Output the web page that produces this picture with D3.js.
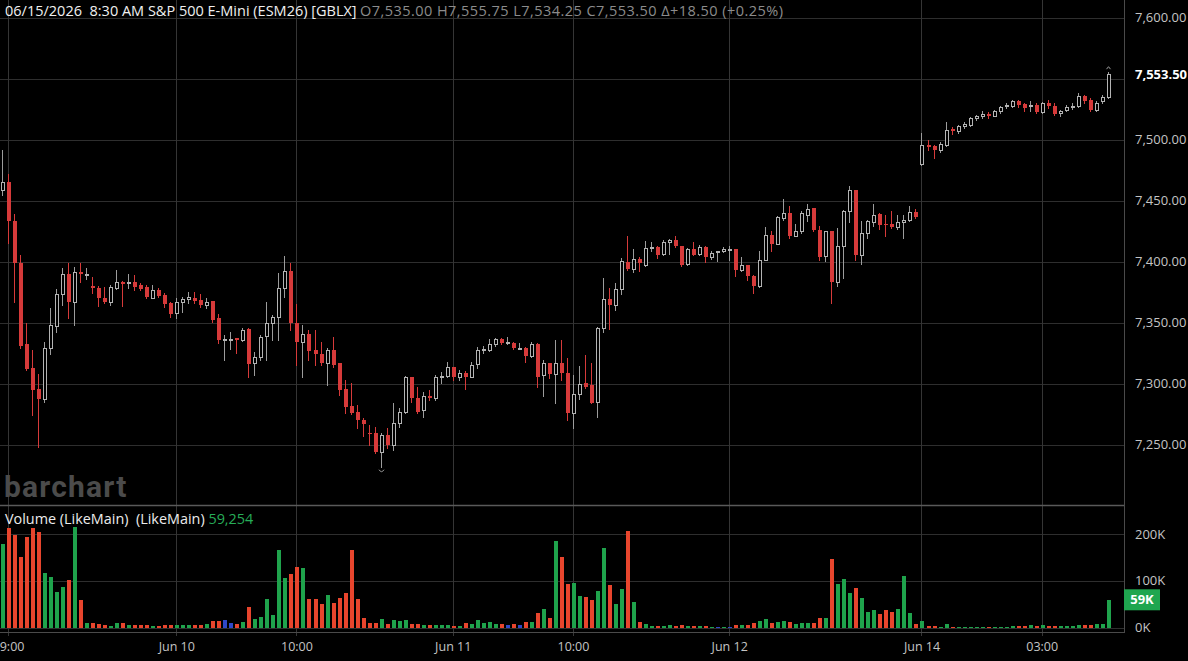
<!DOCTYPE html>
<html>
<head>
<meta charset="utf-8">
<script src="https://d3js.org/d3.v7.min.js"></script>
<style>
  html, body { margin: 0; padding: 0; background: #000; }
  svg { display: block; font-family: "Open Sans", "Noto Sans", sans-serif; }
</style>
</head>
<body>
<div id="chart"></div>
<script>
// 30-minute bars, CT session blocks: [day, first bar, bar count]
var sessions = [
  ["06/09", "08:30", 15], ["06/09", "17:00", 14],
  ["06/10", "00:00", 32], ["06/10", "17:00", 14],
  ["06/11", "00:00", 32], ["06/11", "17:00", 14],
  ["06/12", "00:00", 32],
  ["06/14", "17:00", 14],
  ["06/15", "00:00", 18]
];

var openP = [
  7458.7, 7465.6, 7433.3, 7399.2, 7332.2, 7312.6, 7295.4, 7287.2, 7329.0, 7347.5,
  7373.2, 7389.6, 7367.2, 7391.8, 7389.6, 7380.3, 7378.7, 7370.5, 7367.2, 7378.7,
  7383.6, 7382.2, 7383.6, 7380.8, 7379.5, 7370.5, 7376.8, 7372.7, 7365.8, 7357.7,
  7367.2, 7369.1, 7370.5, 7368.6, 7364.5, 7367.8, 7353.6, 7336.9, 7337.0, 7337.7,
  7335.8, 7344.5, 7316.7, 7322.1, 7339.0, 7350.0, 7354.9, 7378.1, 7392.6, 7349.5,
  7334.4, 7340.7, 7327.6, 7324.3, 7317.2, 7327.6, 7316.7, 7295.4, 7281.7, 7276.5,
  7270.2, 7259.3, 7259.3, 7244.3, 7257.9, 7249.7, 7267.5, 7277.0, 7305.2, 7288.0,
  7278.4, 7289.9, 7288.0, 7305.2, 7306.3, 7313.4, 7305.7, 7309.0, 7305.7, 7315.8,
  7327.6, 7327.6, 7332.5, 7336.3, 7334.4, 7333.6, 7329.0, 7329.0, 7322.7, 7332.5,
  7307.1, 7316.7, 7307.9, 7317.2, 7308.5, 7275.7, 7291.5, 7300.3, 7298.9, 7285.2,
  7345.4, 7369.4, 7364.8, 7377.6, 7399.5, 7394.0, 7402.2, 7397.5, 7411.2, 7412.0,
  7406.6, 7415.8, 7417.5, 7412.6, 7398.4, 7410.4, 7406.6, 7412.0, 7403.8, 7408.5,
  7408.5, 7410.7, 7410.7, 7392.9, 7397.0, 7388.5, 7379.8, 7401.6, 7422.1, 7414.8,
  7435.8, 7439.9, 7421.3, 7424.9, 7438.5, 7444.0, 7426.2, 7404.9, 7424.9, 7383.0,
  7413.1, 7441.3, 7459.0, 7405.7, 7423.5, 7432.5, 7439.3, 7431.1, 7431.1, 7428.4,
  7432.2, 7433.9, 7440.4, 7480.1, 7495.4, 7495.0, 7491.3, 7495.9, 7509.0, 7506.8,
  7511.5, 7512.0, 7517.8, 7519.1, 7521.3, 7519.7, 7523.2, 7527.3, 7527.3, 7531.4,
  7529.5, 7527.3, 7528.7, 7522.7, 7530.0, 7527.9, 7521.9, 7524.0, 7526.8, 7527.9,
  7535.5, 7532.2, 7524.6, 7531.4, 7535.0
];
var highP = [
  7491.5, 7472.1, 7438.8, 7405.5, 7349.5, 7327.6, 7308.0, 7334.4, 7361.7, 7378.0,
  7394.5, 7398.6, 7395.9, 7399.0, 7394.5, 7387.7, 7380.3, 7379.5, 7380.8, 7393.2,
  7384.0, 7390.0, 7389.1, 7382.2, 7380.8, 7380.8, 7378.1, 7374.6, 7367.2, 7369.9,
  7371.3, 7375.4, 7375.4, 7373.2, 7370.5, 7367.8, 7356.8, 7339.9, 7342.6, 7337.7,
  7345.9, 7345.9, 7326.2, 7339.9, 7367.2, 7356.3, 7390.4, 7404.6, 7399.2, 7365.2,
  7348.1, 7344.0, 7344.0, 7334.4, 7328.9, 7338.5, 7316.7, 7303.1, 7300.8, 7282.5,
  7271.6, 7266.3, 7264.8, 7259.3, 7263.4, 7283.9, 7279.8, 7306.3, 7305.7, 7297.5,
  7293.4, 7294.8, 7307.1, 7309.8, 7318.0, 7314.0, 7311.2, 7310.7, 7318.0, 7330.3,
  7330.9, 7336.3, 7337.7, 7337.1, 7338.5, 7334.4, 7333.1, 7330.3, 7334.4, 7333.1,
  7319.4, 7316.7, 7335.8, 7335.8, 7320.8, 7307.1, 7314.2, 7323.2, 7316.7, 7346.7,
  7386.3, 7378.4, 7382.2, 7403.0, 7420.8, 7410.4, 7403.8, 7416.7, 7415.8, 7413.1,
  7417.5, 7418.5, 7421.3, 7413.1, 7411.2, 7415.8, 7413.9, 7413.1, 7409.0, 7409.0,
  7411.8, 7413.1, 7410.7, 7403.8, 7397.0, 7389.3, 7408.5, 7428.4, 7424.9, 7437.2,
  7451.4, 7445.4, 7431.1, 7441.3, 7447.5, 7444.0, 7428.9, 7424.9, 7424.9, 7427.6,
  7442.6, 7462.3, 7459.0, 7433.1, 7434.4, 7447.5, 7439.9, 7438.5, 7441.3, 7438.5,
  7438.5, 7445.4, 7443.2, 7505.5, 7500.0, 7495.9, 7497.8, 7514.9, 7510.4, 7512.3,
  7514.1, 7518.3, 7520.5, 7523.2, 7522.9, 7524.6, 7527.9, 7530.0, 7532.8, 7532.8,
  7530.0, 7531.7, 7530.0, 7530.6, 7532.2, 7530.0, 7524.6, 7528.7, 7530.0, 7538.3,
  7536.9, 7534.2, 7531.4, 7536.9, 7555.75
];
var lowP = [
  7454.6, 7415.3, 7367.2, 7329.0, 7311.0, 7274.3, 7248.4, 7285.0, 7324.3, 7342.6,
  7364.5, 7353.6, 7348.0, 7383.6, 7385.8, 7374.0, 7363.7, 7366.4, 7364.5, 7377.3,
  7363.7, 7378.1, 7376.8, 7376.8, 7370.0, 7370.0, 7370.8, 7363.1, 7354.9, 7353.6,
  7359.0, 7366.4, 7366.4, 7362.6, 7361.7, 7350.8, 7333.1, 7319.4, 7328.1, 7324.9,
  7334.7, 7305.7, 7307.1, 7319.4, 7319.4, 7335.8, 7335.8, 7371.3, 7344.0, 7315.3,
  7305.2, 7319.4, 7315.3, 7315.3, 7298.9, 7313.9, 7290.7, 7276.2, 7275.1, 7263.4,
  7256.8, 7249.7, 7242.9, 7232.0, 7247.0, 7245.6, 7264.8, 7276.2, 7285.2, 7275.7,
  7272.9, 7286.6, 7286.6, 7300.8, 7305.7, 7303.0, 7303.0, 7295.4, 7305.2, 7312.6,
  7325.1, 7326.8, 7331.1, 7332.5, 7332.5, 7328.1, 7328.1, 7318.0, 7322.1, 7297.5,
  7290.2, 7304.4, 7283.9, 7303.0, 7270.2, 7263.4, 7287.2, 7296.2, 7283.9, 7273.0,
  7342.6, 7344.8, 7360.7, 7373.8, 7393.4, 7391.3, 7392.1, 7396.7, 7408.5, 7402.7,
  7405.7, 7406.6, 7412.0, 7396.7, 7397.5, 7405.2, 7405.7, 7399.5, 7402.2, 7400.5,
  7407.9, 7401.6, 7387.9, 7392.1, 7385.2, 7374.4, 7379.0, 7401.1, 7408.5, 7414.8,
  7434.4, 7419.4, 7420.8, 7423.5, 7433.1, 7424.9, 7401.6, 7400.3, 7366.1, 7380.3,
  7386.3, 7432.9, 7401.6, 7398.4, 7419.4, 7429.5, 7426.8, 7421.3, 7427.6, 7426.8,
  7419.4, 7433.1, 7435.8, 7479.5, 7491.3, 7485.0, 7489.9, 7494.5, 7504.6, 7505.5,
  7509.8, 7511.5, 7516.4, 7517.8, 7517.8, 7519.1, 7521.9, 7526.0, 7526.8, 7526.8,
  7523.2, 7523.2, 7521.9, 7521.9, 7525.9, 7520.5, 7519.1, 7523.2, 7525.4, 7526.8,
  7530.3, 7523.8, 7523.2, 7530.3, 7534.25
];
var closeP = [
  7465.6, 7433.3, 7398.6, 7330.9, 7311.7, 7294.8, 7287.2, 7329.0, 7348.0, 7373.2,
  7389.6, 7367.2, 7391.8, 7389.6, 7390.0, 7378.1, 7370.0, 7367.2, 7379.5, 7383.6,
  7381.4, 7383.6, 7379.5, 7378.0, 7371.3, 7376.8, 7372.0, 7365.0, 7357.1, 7367.2,
  7369.1, 7370.8, 7368.0, 7364.5, 7367.2, 7352.2, 7335.8, 7336.9, 7337.0, 7335.8,
  7344.0, 7316.0, 7322.1, 7338.5, 7350.0, 7354.9, 7378.1, 7392.6, 7349.5, 7334.4,
  7340.4, 7327.0, 7324.0, 7317.2, 7327.6, 7315.3, 7294.8, 7281.1, 7275.7, 7270.2,
  7266.9, 7258.5, 7244.3, 7257.9, 7249.7, 7267.5, 7277.0, 7305.2, 7288.0, 7277.0,
  7289.9, 7288.0, 7305.7, 7306.3, 7313.4, 7305.2, 7308.5, 7305.7, 7315.3, 7327.6,
  7328.1, 7332.5, 7336.3, 7333.0, 7334.4, 7329.0, 7329.0, 7322.7, 7332.5, 7305.7,
  7316.7, 7307.9, 7317.2, 7308.5, 7275.7, 7291.5, 7299.7, 7297.5, 7284.4, 7345.4,
  7369.1, 7364.8, 7377.6, 7400.3, 7394.0, 7402.2, 7398.9, 7411.2, 7412.0, 7405.7,
  7415.8, 7417.5, 7412.6, 7397.5, 7410.4, 7405.7, 7412.0, 7403.8, 7407.1, 7408.5,
  7410.7, 7410.7, 7393.4, 7397.5, 7388.0, 7380.3, 7401.6, 7422.1, 7414.8, 7436.6,
  7439.9, 7421.3, 7425.4, 7439.9, 7443.2, 7425.7, 7403.8, 7424.9, 7383.0, 7413.1,
  7441.3, 7459.0, 7405.7, 7423.5, 7433.1, 7438.5, 7430.3, 7430.3, 7428.4, 7432.2,
  7434.4, 7440.4, 7436.6, 7495.4, 7493.7, 7491.3, 7496.4, 7508.2, 7506.8, 7510.9,
  7513.1, 7517.8, 7519.1, 7521.0, 7519.1, 7523.2, 7526.8, 7528.7, 7531.4, 7528.7,
  7526.0, 7528.7, 7522.7, 7530.0, 7527.9, 7521.3, 7523.8, 7526.8, 7527.9, 7535.5,
  7531.4, 7524.6, 7530.0, 7535.0, 7553.5
];
// volume in thousands of contracts
var volumeK = [
  179, 212, 198, 151, 193, 212, 205, 117, 107, 75,
  87, 102, 214, 58, 10, 9, 7, 6, 4, 10,
  10, 6, 6, 6, 6, 4, 4, 6, 6, 6,
  6, 6, 6, 6, 8, 14, 14, 17, 10, 8,
  11, 43, 18, 22, 60, 27, 166, 106, 115, 129,
  127, 60, 60, 51, 69, 52, 64, 73, 165, 62,
  20, 10, 10, 18, 8, 15, 13, 15, 8, 8,
  6, 6, 6, 6, 6, 4, 4, 10, 7, 15,
  10, 12, 8, 7, 6, 7, 6, 12, 12, 32,
  39, 20, 186, 151, 94, 95, 67, 66, 58, 79,
  170, 90, 50, 83, 206, 55, 11, 8, 4, 3,
  3, 5, 4, 5, 3, 3, 3, 3, 2, 2,
  2, 1, 6, 6, 6, 10, 13, 18, 10, 11,
  14, 12, 8, 10, 10, 10, 20, 21, 147, 94,
  103, 73, 85, 64, 34, 37, 29, 38, 34, 39,
  110, 31, 7, 13, 3, 3, 1, 7, 1, 2,
  2, 2, 1, 1, 1, 1, 1, 1, 3, 4,
  3, 5, 3, 5, 3, 3, 3, 3, 3, 6,
  6, 6, 8, 8, 59.254
];

var tickTimes = ["06/09 09:00", "06/10 00:00", "06/10 10:00", "06/11 00:00", "06/11 10:00", "06/12 00:00", "06/14 17:00", "06/15 03:00"];
var tickLabels = ["09:00", "Jun 10", "10:00", "Jun 11", "10:00", "Jun 12", "Jun 14", "03:00"];
var priceTicks = [7250, 7300, 7350, 7400, 7450, 7500, 7550, 7600];
var volumeTicks = [0, 100000, 200000];

var W = 1188, H = 661;
var plotRight = 1124;
var pricePane = { top: 0, bottom: 505 };

var upStroke = "#b3b3b3", downFill = "#d63a3a";
var volUp = "#1fa34c", volDown = "#e8452d", volFlat = "#3048c8";
var gridColor = "#2e2e2e";

var pad = n => (n < 10 ? "0" : "") + n;
var times = [];
sessions.forEach(function(s) {
  var hm = s[1].split(":").map(Number), mins = hm[0] * 60 + hm[1];
  for (var k = 0; k < s[2]; k++, mins += 30) {
    times.push(s[0] + " " + pad(Math.floor(mins / 60)) + ":" + pad(mins % 60));
  }
});

var bars = times.map((t, i) => ({
  t: t, o: openP[i], h: highP[i], l: lowP[i], c: closeP[i], v: volumeK[i] * 1000
}));

var x = d3.scalePoint().domain(times).range([2, 1107.8]);
var y = d3.scaleLinear().domain([7200.6, 7614.5]).range([pricePane.bottom, pricePane.top]);
var yv = d3.scaleLinear().domain([0, 200000]).range([627.5, 534]);

var svg = d3.select("#chart").append("svg")
  .attr("width", W).attr("height", H);

svg.append("rect").attr("width", W).attr("height", H).attr("fill", "#000");

// grid
var grid = svg.append("g").attr("shape-rendering", "crispEdges");
grid.selectAll(".hgrid").data(priceTicks).enter().append("line")
  .attr("x1", 0).attr("x2", plotRight)
  .attr("y1", d => Math.round(y(d)) + 0.5).attr("y2", d => Math.round(y(d)) + 0.5)
  .attr("stroke", gridColor);
grid.selectAll(".vgrid-h").data(volumeTicks).enter().append("line")
  .attr("x1", 0).attr("x2", plotRight)
  .attr("y1", d => Math.round(yv(d)) + 0.5).attr("y2", d => Math.round(yv(d)) + 0.5)
  .attr("stroke", gridColor);
grid.selectAll(".tgrid").data(tickTimes).enter().append("line")
  .attr("x1", d => Math.round(x(d)) + 0.5).attr("x2", d => Math.round(x(d)) + 0.5)
  .attr("y1", 0).attr("y2", 636)
  .attr("stroke", "#353535");

// pane borders
svg.append("line").attr("x1", 0).attr("x2", plotRight).attr("y1", 505.5).attr("y2", 505.5)
  .attr("stroke", "#5a5a5a").attr("stroke-width", 1.5);
svg.append("line").attr("x1", 0).attr("x2", plotRight).attr("y1", 632.5).attr("y2", 632.5)
  .attr("stroke", "#4a4a4a");
svg.append("line").attr("x1", plotRight + 0.5).attr("x2", plotRight + 0.5).attr("y1", 0).attr("y2", 633)
  .attr("stroke", "#4a4a4a");

// watermark
svg.append("text").attr("x", 4).attr("y", 497)
  .attr("font-family", "Roboto, sans-serif").attr("font-weight", 700).attr("font-size", 30)
  .attr("letter-spacing", 1.2)
  .attr("fill", "#4b4b4b").text("barchart");

// candles
var candles = svg.append("g").attr("shape-rendering", "crispEdges");
var cg = candles.selectAll("g").data(bars).enter().append("g");
cg.append("line")
  .attr("x1", d => Math.round(x(d.t)) + 0.5).attr("x2", d => Math.round(x(d.t)) + 0.5)
  .attr("y1", d => Math.round(y(d.h))).attr("y2", d => Math.round(y(d.l)) + 1)
  .attr("stroke", d => d.c < d.o ? downFill : "#9c9c9c");
cg.append("rect")
  .attr("x", d => d.c < d.o ? Math.round(x(d.t)) - 1.5 : Math.round(x(d.t)) - 1)
  .attr("width", d => d.c < d.o ? 4 : 3)
  .attr("y", d => {
    var top = Math.round(y(Math.max(d.o, d.c)));
    return d.c < d.o ? top : top + 0.5;
  })
  .attr("height", d => {
    var h = Math.round(y(Math.min(d.o, d.c))) - Math.round(y(Math.max(d.o, d.c)));
    return Math.max(h, 1);
  })
  .attr("fill", d => d.c < d.o ? downFill : "#000")
  .attr("stroke", d => d.c < d.o ? "none" : upStroke);

// high / low markers
var hiBar = bars[d3.maxIndex(bars, d => d.h)], loBar = bars[d3.minIndex(bars, d => d.l)];
svg.append("path")
  .attr("d", () => {
    var cx = Math.round(x(hiBar.t)) + 0.5, cy = y(hiBar.h) - 4;
    return "M" + (cx - 2) + "," + (cy + 1.5) + "L" + cx + "," + (cy - 1) + "L" + (cx + 2) + "," + (cy + 1.5);
  })
  .attr("fill", "none").attr("stroke", "#999");
svg.append("path")
  .attr("d", () => {
    var cx = Math.round(x(loBar.t)) + 0.5, cy = y(loBar.l) + 4;
    return "M" + (cx - 2.5) + "," + (cy - 1) + "Q" + cx + "," + (cy + 3) + " " + (cx + 2.5) + "," + (cy - 1);
  })
  .attr("fill", "none").attr("stroke", "#999");

// volume bars
svg.append("g").attr("shape-rendering", "crispEdges")
  .selectAll("rect").data(bars).enter().append("rect")
  .attr("x", d => Math.round(x(d.t)) - 1.5)
  .attr("width", 4)
  .attr("y", d => Math.round(yv(d.v)))
  .attr("height", d => Math.max(1, Math.round(yv(0)) - Math.round(yv(d.v))))
  .attr("fill", d => d.c > d.o ? volUp : d.c < d.o ? volDown : volFlat);

// right price axis
var last = bars[bars.length - 1];
var yAxis = d3.axisRight(y)
  .tickValues(priceTicks.filter(p => Math.abs(y(p) - y(last.c)) > 12))
  .tickFormat(d3.format(",.2f"))
  .tickSize(0).tickPadding(11);
var ya = svg.append("g").attr("transform", "translate(" + plotRight + ",0)").call(yAxis);
ya.select(".domain").remove();
ya.selectAll("text").attr("fill", "#c4c4c4").attr("font-size", 13)
  .attr("font-family", "'Open Sans', sans-serif");

svg.append("text").attr("x", plotRight + 11).attr("y", y(last.c)).attr("dy", "0.32em")
  .attr("fill", "#fff").attr("font-weight", 700).attr("font-size", 13)
  .text(d3.format(",.2f")(last.c));

// volume axis
var vAxis = d3.axisRight(yv).tickValues(volumeTicks)
  .tickFormat(d => d / 1000 + "K").tickSize(0).tickPadding(11);
var va = svg.append("g").attr("transform", "translate(" + plotRight + ",0)").call(vAxis);
va.select(".domain").remove();
va.selectAll("text").attr("fill", "#c4c4c4").attr("font-size", 13)
  .attr("font-family", "'Open Sans', sans-serif");

var lastVolY = yv(last.v);
svg.append("rect").attr("x", plotRight).attr("y", lastVolY - 10.5).attr("width", 36).attr("height", 21)
  .attr("fill", "#1fa64f");
svg.append("text").attr("x", plotRight + 18).attr("y", lastVolY).attr("dy", "0.35em")
  .attr("text-anchor", "middle").attr("fill", "#fff").attr("font-weight", 700).attr("font-size", 13)
  .text(Math.round(last.v / 1000) + "K");

// time axis
var xAxis = d3.axisBottom(x).tickValues(tickTimes)
  .tickFormat((d, i) => tickLabels[i]).tickSize(0).tickPadding(9);
var xa = svg.append("g").attr("transform", "translate(0,633)").call(xAxis);
xa.select(".domain").remove();
xa.selectAll("text").attr("fill", "#c4c4c4").attr("font-size", 12.5)
  .attr("font-family", "'Open Sans', sans-serif");

// header
var fmt = d3.format(",.2f");
svg.append("text").attr("x", 5).attr("y", 16)
  .attr("font-size", 14.5).attr("font-family", "'Open Sans', sans-serif")
  .attr("fill", "#f0f0f0")
  .text("06/15/2026\u00a0\u00a08:30 AM S&P 500 E-Mini (ESM26) [GBLX]");
svg.append("text").attr("x", 360).attr("y", 16)
  .attr("font-size", 14.5).attr("font-family", "'Open Sans', sans-serif")
  .attr("fill", "#8c8c8c")
  .attr("textLength", 423).attr("lengthAdjust", "spacing")
  .text("O" + fmt(last.o) + " H" + fmt(last.h) + " L" + fmt(last.l) + " C" + fmt(last.c) +
        " \u0394+18.50 (+0.25%)");

// volume study label
var vl = svg.append("text").attr("x", 5).attr("y", 524)
  .attr("font-size", 14.4).attr("font-family", "'Open Sans', sans-serif");
vl.append("tspan").attr("fill", "#ececec").text("Volume (LikeMain)\u00a0\u00a0(LikeMain) ");
vl.append("tspan").attr("fill", "#27ad58").text(d3.format(",")(Math.round(last.v)));
</script>
</body>
</html>
